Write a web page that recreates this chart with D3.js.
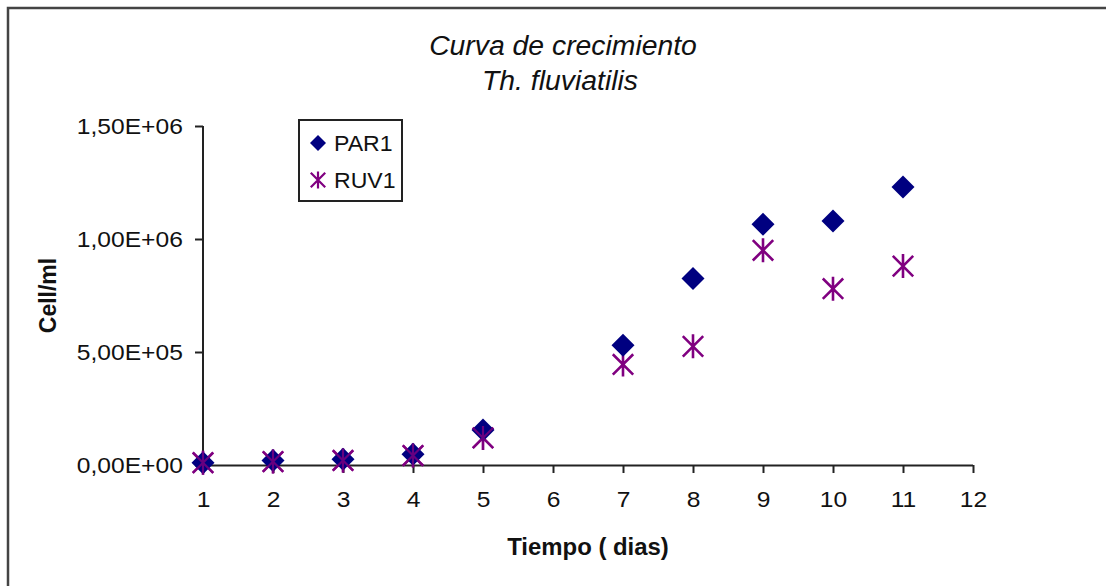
<!DOCTYPE html>
<html>
<head>
<meta charset="utf-8">
<script src="https://cdn.jsdelivr.net/npm/d3@7"></script>
<style>
  html, body { margin: 0; padding: 0; background: #fff; }
  svg { display: block; }
  text { font-family: "Liberation Sans", Arial, sans-serif; fill: #111; }
</style>
</head>
<body>
<svg id="chart" width="1106" height="586"></svg>
<script>
// Growth curve data: cell density (cells/ml) per day
const days = [1, 2, 3, 4, 5, 7, 8, 9, 10, 11];
const par1 = [1.0e4, 2.0e4, 2.5e4, 4.8e4, 1.55e5, 5.3e5, 8.25e5, 1.065e6, 1.08e6, 1.23e6];
const ruv1 = [1.0e4, 1.5e4, 2.0e4, 4.2e4, 1.2e5, 4.45e5, 5.25e5, 9.5e5, 7.8e5, 8.8e5];
const xTicks = [1, 2, 3, 4, 5, 6, 7, 8, 9, 10, 11, 12];
const yTicks = [0, 5e5, 1e6, 1.5e6];
const seriesNames = ["PAR1", "RUV1"];

const svg = d3.select("#chart");

// Outer chart frame (right and bottom edges fall outside the view)
svg.append("rect")
  .attr("x", 8).attr("y", 8)
  .attr("width", 1200).attr("height", 700)
  .attr("fill", "none").attr("stroke", "#444").attr("stroke-width", 2.5);

const plot = { left: 203, right: 973, top: 126, bottom: 465 };

const x = d3.scaleLinear().domain([1, 12]).range([plot.left, plot.right]);
const y = d3.scaleLinear().domain([0, 1.5e6]).range([plot.bottom, plot.top]);

// Spreadsheet-style scientific notation: 1,50E+06
function sciFormat(v) {
  if (v === 0) return "0,00E+00";
  const e = Math.floor(Math.log10(Math.abs(v)));
  const m = v / Math.pow(10, e);
  return m.toFixed(2).replace(".", ",") + "E" + (e < 0 ? "-" : "+") + String(Math.abs(e)).padStart(2, "0");
}

// Axes
const xAxis = svg.append("g")
  .attr("transform", `translate(0,${plot.bottom})`)
  .call(d3.axisBottom(x).tickValues(xTicks).tickSize(8).tickPadding(18).tickFormat(d3.format("d")));
const yAxis = svg.append("g")
  .attr("transform", `translate(${plot.left},0)`)
  .call(d3.axisLeft(y).tickValues(yTicks).tickSize(8).tickPadding(10).tickFormat(sciFormat));

[xAxis, yAxis].forEach(g => {
  g.select(".domain").attr("stroke", "#222").attr("stroke-width", 2);
  g.selectAll(".tick line").attr("stroke", "#222").attr("stroke-width", 2);
  g.selectAll(".tick text")
    .attr("font-family", "Liberation Sans, Arial, sans-serif")
    .attr("font-size", 22).attr("fill", "#111")
    .attr("transform", "scale(1.12,1)");
});
// Plain axis lines without d3's outer end ticks
xAxis.select(".domain").attr("d", `M${plot.left},0.5H${plot.right}`);
xAxis.selectAll(".tick line").attr("y1", 0);
yAxis.select(".domain").attr("d", `M0,${plot.top}V${plot.bottom}`);

// Titles
const title = svg.append("g").attr("font-style", "italic").attr("font-size", 27).attr("text-anchor", "middle");
title.append("text").attr("transform", "translate(563,55) scale(1.05,1)").text("Curva de crecimiento");
title.append("text").attr("transform", "translate(560,90) scale(1.05,1)").text("Th. fluviatilis");

svg.append("text")
  .attr("transform", `translate(${(plot.left + plot.right) / 2},555) scale(1.04,1)`)
  .attr("text-anchor", "middle").attr("font-weight", "bold").attr("font-size", 23)
  .text("Tiempo ( dias)");

svg.append("text")
  .attr("transform", `translate(56,${(plot.top + plot.bottom) / 2}) rotate(-90)`)
  .attr("text-anchor", "middle").attr("font-weight", "bold").attr("font-size", 23)
  .text("Cell/ml");

// Marker shapes
const diamondPath = r => `M0,${-r}L${r},0L0,${r}L${-r},0Z`;
const starPath = r => `M0,${-r}V${r}M${-r * 0.85},${-r * 0.85}L${r * 0.85},${r * 0.85}M${-r * 0.85},${r * 0.85}L${r * 0.85},${-r * 0.85}`;

const navy = "#000080", purple = "#800080";

// RUV1 stars
svg.append("g").selectAll("path")
  .data(days.map((d, i) => [d, ruv1[i]]))
  .join("path")
  .attr("transform", d => `translate(${x(d[0])},${y(d[1])})`)
  .attr("d", starPath(12))
  .attr("fill", "none").attr("stroke", purple).attr("stroke-width", 2.6);

// PAR1 diamonds
svg.append("g").selectAll("path")
  .data(days.map((d, i) => [d, par1[i]]))
  .join("path")
  .attr("transform", d => `translate(${x(d[0])},${y(d[1])})`)
  .attr("d", diamondPath(11.5))
  .attr("fill", navy);

// stars again on top at low values so both markers show where they overlap
svg.append("g").selectAll("path")
  .data(days.map((d, i) => [d, ruv1[i]]).filter(d => d[0] <= 5))
  .join("path")
  .attr("transform", d => `translate(${x(d[0])},${y(d[1])})`)
  .attr("d", starPath(12))
  .attr("fill", "none").attr("stroke", purple).attr("stroke-width", 2.2).attr("stroke-opacity", 0.8);

// Legend
const legend = svg.append("g");
legend.append("rect")
  .attr("x", 299).attr("y", 120).attr("width", 103).attr("height", 81)
  .attr("fill", "#fff").attr("stroke", "#222").attr("stroke-width", 2);
const items = legend.selectAll("g.item")
  .data(seriesNames)
  .join("g")
  .attr("transform", (d, i) => `translate(318,${143 + i * 37})`);
items.append("path")
  .attr("d", (d, i) => i === 0 ? diamondPath(8) : starPath(8.5))
  .attr("fill", (d, i) => i === 0 ? navy : "none")
  .attr("stroke", (d, i) => i === 0 ? "none" : purple)
  .attr("stroke-width", 2.2);
items.append("text")
  .attr("transform", "translate(16,8) scale(1.05,1)")
  .attr("font-size", 22)
  .text(d => d);
</script>
</body>
</html>
